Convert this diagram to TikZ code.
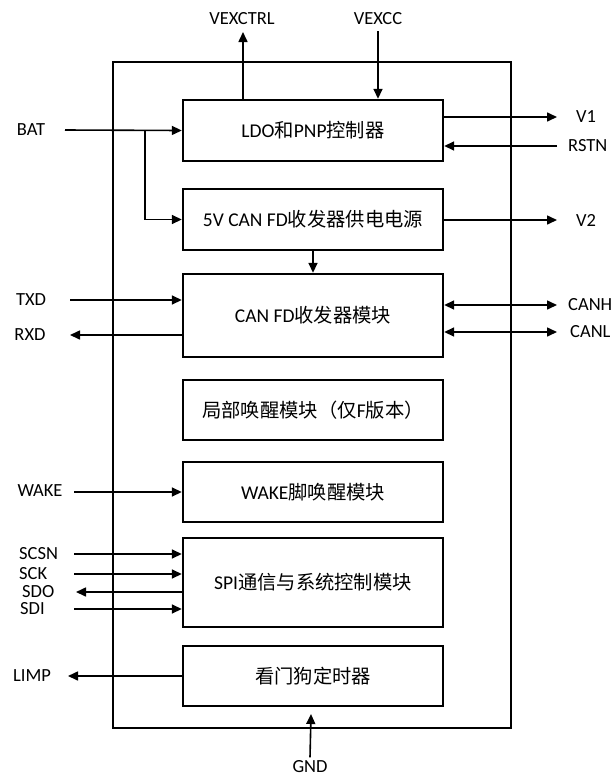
\documentclass[tikz,border=0pt]{standalone}
\usepackage{fontspec}
\setmainfont{Carlito}
\newfontfamily\cjk[Scale=0.99]{Noto Sans CJK SC}
\usetikzlibrary{arrows.meta}

\begin{document}
\begin{tikzpicture}[x=1pt, y=-1pt, font=\fontsize{19.5}{23}\selectfont]
\tikzstyle{chip} = [rectangle, draw=black, line width=2.4pt, minimum width=398, minimum height=666]
\tikzstyle{block} = [rectangle, draw=black, line width=2.4pt, minimum width=260, minimum height=60, text centered]
\tikzstyle{pin} = [font=\fontsize{18.5}{22}\selectfont]
\tikzstyle{arrow} = [line width=1.6pt, -{Triangle[length=10pt,width=9pt]}]
\tikzstyle{biarrow} = [line width=1.6pt, {Triangle[length=10pt,width=9pt]}-{Triangle[length=10pt,width=9pt]}]

\useasboundingbox (0,0) rectangle (613,777);

\node (Chip) [chip] at (312,395) {};

\node (LdoController) [block, minimum height=61] at (313,130.5) {LDO{\cjk 和}PNP{\cjk 控制器}};
\node (CanSupply) [block, minimum height=61] at (313,219.5) {5V CAN FD{\cjk 收发器供电电源}};
\node (CanTransceiver) [block, minimum height=83] at (313,315.5) {CAN FD{\cjk 收发器模块}};
\node (PartialWake) [block] at (313,410) {{\cjk 局部唤醒模块（仅}F{\cjk 版本）}};
\node (WakePin) [block] at (313,492) {WAKE{\cjk 脚唤醒模块}};
\node (SpiControl) [block, minimum height=89] at (313,582.5) {SPI{\cjk 通信与系统控制模块}};
\node (Watchdog) [block] at (313,676) {{\cjk 看门狗定时器}};

% pins
\node (VEXCTRL) [pin] at (242,19) {VEXCTRL};
\node (VEXCC) [pin] at (378,19) {VEXCC};
\node (BAT) [pin] at (31,130) {BAT};
\node (V1) [pin] at (586,117) {V1};
\node (RSTN) [pin, anchor=west, inner sep=0pt] at (568,146) {RSTN};
\node (V2) [pin] at (586,220) {V2};
\node (TXD) [pin] at (31,300) {TXD};
\node (RXD) [pin] at (30,335) {RXD};
\node (CANH) [pin, anchor=west, inner sep=0pt] at (568,305) {CANH};
\node (CANL) [pin, anchor=west, inner sep=0pt] at (570,332) {CANL};
\node (WAKE) [pin] at (40,491) {WAKE};
\node (SCSN) [pin, anchor=west, inner sep=0pt] at (19,554) {SCSN};
\node (SCK) [pin, anchor=west, inner sep=0pt] at (19,574) {SCK};
\node (SDO) [pin, anchor=west, inner sep=0pt] at (22,592) {SDO};
\node (SDI) [pin, anchor=west, inner sep=0pt] at (20,609) {SDI};
\node (LIMP) [pin] at (32,676) {LIMP};
\node (GND) [pin] at (310,767) {GND};

\coordinate (VexctrlEnd) at (243,32);
\coordinate (VexccStart) at (378,31);
\coordinate (BatStart) at (65,130);
\coordinate (BatSplit) at (145,130);
\coordinate (V1End) at (557,117);
\coordinate (RstnStart) at (557,146);
\coordinate (V2End) at (557,220);
\coordinate (TxdStart) at (70,300);
\coordinate (RxdEnd) at (70,335);
\coordinate (CanhEnd) at (557,305);
\coordinate (CanlEnd) at (557,332);
\coordinate (WakeStart) at (74,492);
\coordinate (ScsnStart) at (74,554);
\coordinate (SckStart) at (74,574);
\coordinate (SdoEnd) at (76,592);
\coordinate (SdiStart) at (74,609);
\coordinate (LimpEnd) at (68,676);
\coordinate (GndEnd) at (311,714);

\draw [arrow] (LdoController.north -| VexctrlEnd) -- (VexctrlEnd);
\draw [arrow] (VexccStart) -- (LdoController.north -| VexccStart);
\draw [arrow] (BatStart) -- (LdoController.west);
\draw [arrow] (BatSplit) |- (CanSupply.west);
\draw [arrow] (LdoController.east |- V1End) -- (V1End);
\draw [arrow] (RstnStart) -- (LdoController.east |- RstnStart);
\draw [arrow] (CanSupply.east |- V2End) -- (V2End);
\draw [arrow] (CanSupply) -- (CanTransceiver);
\draw [arrow] (TxdStart) -- (CanTransceiver.west |- TxdStart);
\draw [arrow] (CanTransceiver.west |- RxdEnd) -- (RxdEnd);
\draw [biarrow] (CanTransceiver.east |- CanhEnd) -- (CanhEnd);
\draw [biarrow] (CanTransceiver.east |- CanlEnd) -- (CanlEnd);
\draw [arrow] (WakeStart) -- (WakePin.west);
\draw [arrow] (ScsnStart) -- (SpiControl.west |- ScsnStart);
\draw [arrow] (SckStart) -- (SpiControl.west |- SckStart);
\draw [arrow] (SpiControl.west |- SdoEnd) -- (SdoEnd);
\draw [arrow] (SdiStart) -- (SpiControl.west |- SdiStart);
\draw [arrow] (Watchdog.west) -- (LimpEnd);
\draw [arrow] (GND.north) -- (GndEnd);

\end{tikzpicture}
\end{document}
